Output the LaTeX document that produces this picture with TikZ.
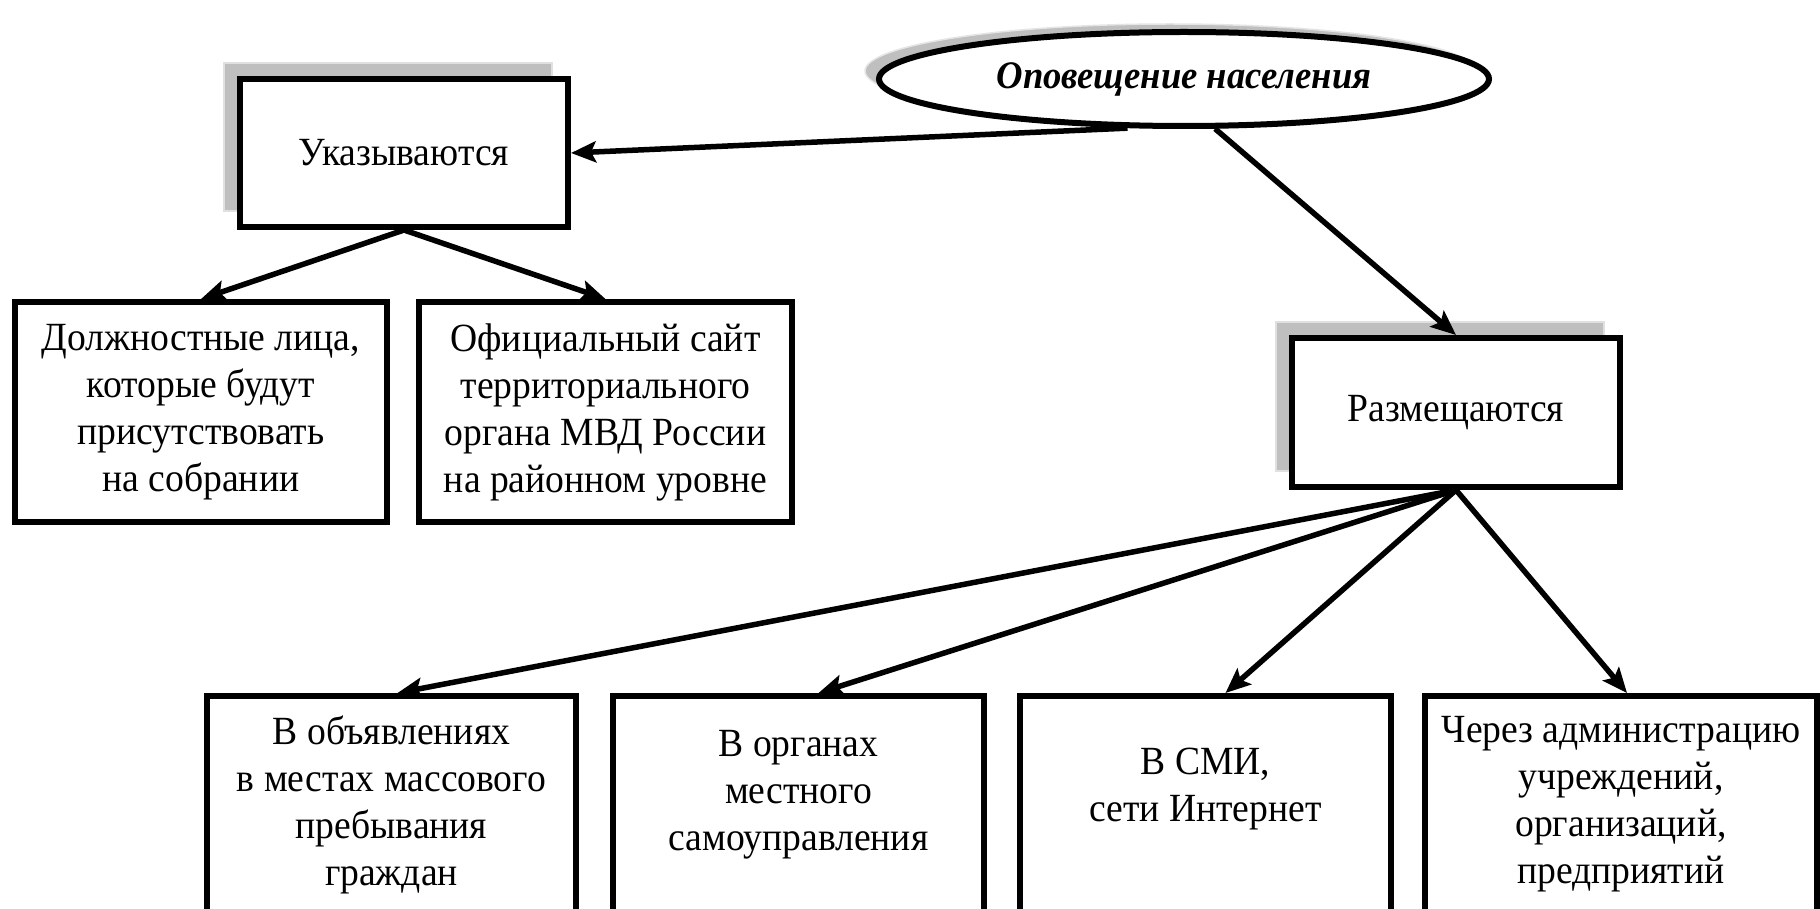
\documentclass[tikz,border=0pt]{standalone}
\usepackage{fontspec}
\setmainfont[FakeStretch=0.94]{Liberation Serif}
\usetikzlibrary{arrows.meta,shapes.geometric,shadows}
\begin{document}
\begin{tikzpicture}[x=1pt,y=-1pt,
  box/.style={draw, line width=6pt, fill=white, align=center, font=\fontsize{40}{47}\selectfont, inner sep=0pt},
  boxshadow/.style={general shadow={shadow xshift=-16pt, shadow yshift=16pt, fill=black!25, draw=black!12, line width=1.5pt}},
  ellshadow/.style={general shadow={shadow xshift=-14pt, shadow yshift=8pt, fill=black!25, draw=black!10, line width=1.5pt}},
  arr/.style={line width=5.5pt, -{Stealth[length=25pt,width=21pt,inset=5pt]}},
]
\useasboundingbox (0,0) rectangle (1820,909);
\fill[white] (0,0) rectangle (1820,909);
% top ellipse
\node[ellipse, draw, line width=6pt, fill=white, ellshadow, minimum width=610pt, minimum height=94pt, inner sep=0pt,
  font=\fontsize{39}{44}\selectfont\bfseries\itshape] (ell) at (1184,79) {Оповещение населения};
% second level
\node[box, boxshadow, minimum width=328pt, minimum height=148pt] (uk) at (404,153) {Указываются};
\node[box, boxshadow, minimum width=328pt, minimum height=149pt] (rz) at (1456,412.5) {Размещаются};
% left children
\node[box, minimum width=372pt, minimum height=220pt] (b1) at (201,412) {Должностные лица,\\которые будут\\присутствовать\\на собрании};
\node[box, minimum width=373pt, minimum height=220pt] (b2) at (605.5,412) {Официальный сайт\\территориального\\органа МВД России\\на районном уровне};
% bottom children
\node[box, anchor=north, minimum width=369pt, inner ysep=20pt] (c1) at (391.5,693) {В объявлениях\\в местах массового\\пребывания\\граждан\\\rule{0pt}{120pt}};
\node[box, anchor=north, minimum width=371pt, inner ysep=34pt] (c2) at (798.5,693) {В органах\\местного\\самоуправления\\\rule{0pt}{120pt}};
\node[box, anchor=north, minimum width=371pt, inner ysep=52pt] (c3) at (1205.5,693) {В СМИ,\\сети Интернет\\\rule{0pt}{120pt}};
\node[box, anchor=north, minimum width=392pt, inner ysep=20pt] (c4) at (1621,693) {Через администрацию\\учреждений,\\организаций,\\предприятий\\\rule{0pt}{120pt}};
% connectors
\draw[arr] (ell.221) -- (uk.east);
\draw[arr] (ell.302) -- (rz.north);
\draw[arr] (uk.south) -- (b1.north);
\draw[arr] (uk.south) -- (b2.north);
\draw[arr] (rz.south) -- ([xshift=6pt]c1.north);
\draw[arr] (rz.south) -- ([xshift=20pt]c2.north);
\draw[arr] (rz.south) -- ([xshift=20pt]c3.north);
\draw[arr] (rz.south) -- ([xshift=6pt]c4.north);
\end{tikzpicture}
\end{document}
